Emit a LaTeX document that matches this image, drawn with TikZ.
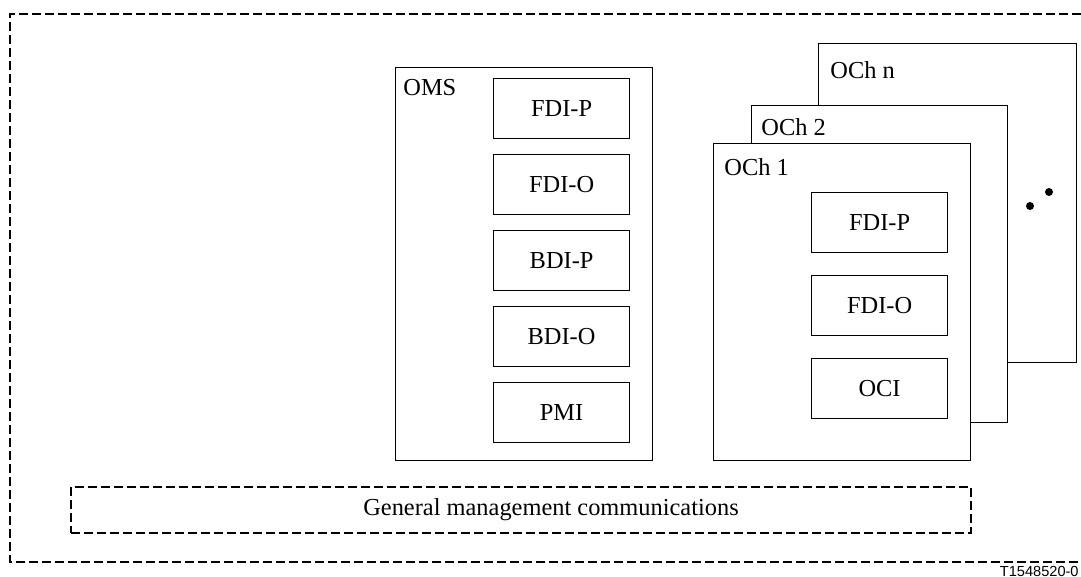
\documentclass[tikz,border=0pt]{standalone}
\usepackage{fontspec}
\setmainfont{Liberation Serif}
\newfontfamily\tagfont{Liberation Sans}
\begin{document}
\begin{tikzpicture}[x=0.5pt,y=-0.5pt,
    every node/.style={font=\fontsize{12.2}{14}\selectfont},
    frame/.style={draw, line width=0.6pt, fill=white, inner sep=0pt, anchor=north west},
    fbox/.style={draw, line width=0.6pt, fill=white, inner sep=0pt, anchor=north west,
                 minimum width=68pt, minimum height=30pt},
    dashframe/.style={line width=1pt, dash pattern=on 4.5pt off 2pt}]
    \useasboundingbox (0,0) rectangle (1081,577);

    % Outer dashed frame (open to the right)
    \draw[dashframe] (1081,14) -- (10,14) -- (10,562) -- (1081,562);

    % OMS block
    \node[frame, minimum width=128.5pt, minimum height=196.5pt] (omsbox) at (395,67) {};
    \node[anchor=west, inner sep=0pt] (omslabel) at (403,88) {OMS};
    \foreach \lbl [count=\i] in {FDI-P,FDI-O,BDI-P,BDI-O,PMI}
        \node[fbox] (omsf\i) at (493,{78+76*(\i-1)}) {\lbl};

    % OCh stack, back to front
    \node[frame, minimum width=129pt, minimum height=159.5pt] (ochn) at (818,43) {};
    \node[anchor=west, inner sep=0pt] (ochnlabel) at (830,70) {OCh n};
    \node[frame, minimum width=128pt, minimum height=158.5pt] (ochtwo) at (751,105) {};
    \node[anchor=west, inner sep=0pt] (ochtwolabel) at (761,127) {OCh 2};
    \node[frame, minimum width=128.5pt, minimum height=158.5pt] (ochone) at (713,143) {};
    \node[anchor=west, inner sep=0pt] (ochonelabel) at (724,167) {OCh 1};
    \foreach \lbl [count=\i] in {FDI-P,FDI-O,OCI}
        \node[fbox] (ochf\i) at (811,{192+83*(\i-1)}) {\lbl};

    % dots for the further channels
    \fill (1030,206) circle (2pt);
    \fill (1049,192) circle (2pt);

    % General management communications
    \node[draw, dashframe, inner sep=0pt, anchor=north west,
          minimum width=450pt, minimum height=23pt] (gmc) at (70,486) {};
    \node[xshift=15pt] (gmclabel) at (gmc.center) {General management communications};

    % figure tag
    \node[anchor=east, inner sep=0pt, font=\tagfont\fontsize{7.3}{9}\selectfont] (tag) at (1079,571) {T1548520-0};
\end{tikzpicture}
\end{document}
